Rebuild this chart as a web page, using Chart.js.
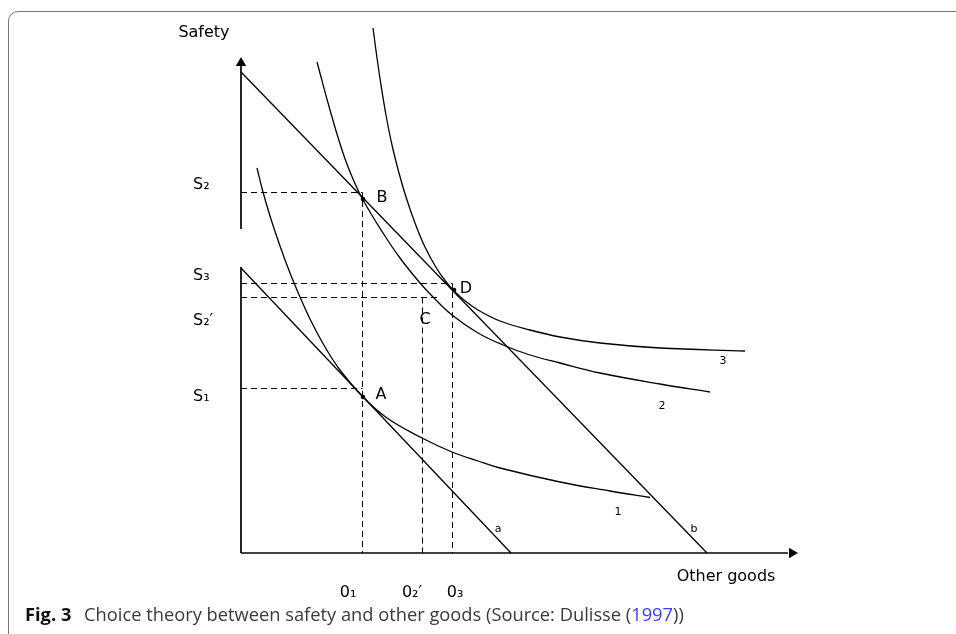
<!DOCTYPE html>
<html>
<head>
<meta charset="utf-8">
<script src="https://cdn.jsdelivr.net/npm/chart.js@4/dist/chart.umd.min.js"></script>
<style>
  html, body { margin: 0; padding: 0; background: #fff; }
  #wrap { position: relative; width: 956px; height: 634px; overflow: hidden; background: #fff; }
  #frame { position: absolute; left: 8px; top: 11px; width: 1100px; height: 800px;
           border: 1.5px solid #777; border-radius: 10px; box-sizing: border-box; }
  #chart { position: absolute; left: 0; top: 0; }
  #caption { position: absolute; left: 25px; top: 601px; font-family: "Open Sans", "Noto Sans", sans-serif;
             font-size: 18.3px; color: #3a3a3a; white-space: nowrap; }
  #caption b { color: #111; margin-right: 8px; }
  #caption a { color: #3d3df5; text-decoration: none; }
</style>
</head>
<body>
<div id="wrap">
  <div id="frame"></div>
  <canvas id="chart" width="956" height="634"></canvas>
  <div id="caption"><b>Fig. 3</b> Choice theory between safety and other goods (Source: Dulisse (<a>1997</a>))</div>
</div>
<script>
// ---- data (x = other goods, y = safety; arbitrary units, origin at the axes' corner) ----
const curve1X = [16, 22, 29, 39, 49, 59, 69, 84, 99, 122, 146, 181, 211, 237, 259, 319, 369, 409];
const curve1Y = [385, 361, 337, 307, 280, 256, 234, 206, 183, 156, 135, 115, 101, 92, 85, 71, 62, 55.5];
const curve2X = [76, 89, 102, 112, 122, 142, 159, 179, 192, 211, 237, 262, 289, 319, 359, 419, 469];
const curve2Y = [491, 443, 400, 374, 353, 320, 295, 270, 256, 238, 220, 208, 198, 190, 180, 169, 161];
const curve3X = [132, 136, 140, 145, 151, 158, 165, 174, 184, 196, 206, 213, 223, 237, 259, 289, 319, 359, 419, 504];
const curve3Y = [525, 495, 468, 438, 408, 380, 356, 330, 306, 284, 270, 262, 253, 243, 232, 223, 216, 210, 205, 202];
const budgetAX = [0, 270];
const budgetAY = [285, 0];
const budgetBX = [0, 466];
const budgetBY = [481, 0];
// safety levels and other-goods levels
const sLevels = { S1: 164.5, S2: 360.5, S3: 269.5, S2p: 255.5 };
const oLevels = { O1: 121.5, O2p: 181.5, O3: 211.5 };
const choiceNames = ['A', 'B', 'D'];
const choiceX = [122, 122, 213];
const choiceY = [156, 354, 263];
// axis extents
const axisYTop = 487, axisYGapLow = 286, axisYGapHigh = 324, axisXRight = 547;
// tick / category labels
const sLabels = ['S\u2082', 'S\u2083', 'S\u2082\u2032', 'S\u2081'];
const oLabels = ['0\u2081', '0\u2082\u2032', '0\u2083'];

const zip = (xs, ys) => xs.map((x, i) => ({ x, y: ys[i] }));

const solid = (data, extra) => Object.assign({
  data, showLine: true, borderColor: '#000', borderWidth: 1.3, pointRadius: 0,
  fill: false, tension: 0.4
}, extra || {});
const dashed = (data) => ({
  data, showLine: true, borderColor: '#000', borderWidth: 1, pointRadius: 0,
  borderDash: [6, 4], fill: false, tension: 0
});

const datasets = [
  // axes
  solid([{ x: 0, y: 0 }, { x: 0, y: axisYGapLow }], { borderWidth: 1.7, tension: 0 }),
  solid([{ x: 0, y: axisYGapHigh }, { x: 0, y: axisYTop }], { borderWidth: 1.7, tension: 0 }),
  solid([{ x: 0, y: 0 }, { x: axisXRight, y: 0 }], { borderWidth: 1.7, tension: 0 }),
  { data: [{ x: 0, y: axisYTop + 3 }], pointStyle: 'triangle', pointRadius: 6, pointRotation: 0,
    backgroundColor: '#000', borderColor: '#000', borderWidth: 0, showLine: false },
  { data: [{ x: axisXRight + 4, y: 0 }], pointStyle: 'triangle', pointRadius: 6, pointRotation: 90,
    backgroundColor: '#000', borderColor: '#000', borderWidth: 0, showLine: false },
  // dashed guides
  dashed([{ x: 0, y: sLevels.S2 }, { x: oLevels.O1, y: sLevels.S2 }, { x: oLevels.O1, y: 0 }]),
  dashed([{ x: 0, y: sLevels.S1 }, { x: oLevels.O1, y: sLevels.S1 }]),
  dashed([{ x: 0, y: sLevels.S3 }, { x: oLevels.O3, y: sLevels.S3 }, { x: oLevels.O3, y: 0 }]),
  dashed([{ x: 0, y: sLevels.S2p }, { x: 196, y: sLevels.S2p }]),
  dashed([{ x: oLevels.O2p, y: sLevels.S2p }, { x: oLevels.O2p, y: 0 }]),
  // budget lines
  solid(zip(budgetAX, budgetAY), { tension: 0 }),
  solid(zip(budgetBX, budgetBY), { tension: 0 }),
  // indifference curves
  solid(zip(curve1X, curve1Y)),
  solid(zip(curve2X, curve2Y)),
  solid(zip(curve3X, curve3Y)),
  // choice points
  { data: zip(choiceX, choiceY), pointRadius: 2.3, backgroundColor: '#000', borderWidth: 0, showLine: false }
];

const LBL = '16px "DejaVu Sans", Verdana, sans-serif';
const SML = '11px "DejaVu Sans", Verdana, sans-serif';
const annotations = [
  { t: 'Safety', x: -37, y: 520, f: LBL, a: 'center' },
  { t: sLabels[0], x: -48, y: 368, f: LBL, a: 'left' },
  { t: sLabels[1], x: -48, y: 277, f: LBL, a: 'left' },
  { t: sLabels[2], x: -48, y: 232, f: LBL, a: 'left' },
  { t: sLabels[3], x: -48, y: 156, f: LBL, a: 'left' },
  { t: 'B', x: 141, y: 355, f: LBL, a: 'center' },
  { t: 'D', x: 225, y: 264, f: LBL, a: 'center' },
  { t: 'C', x: 184, y: 233, f: LBL, a: 'center' },
  { t: 'A', x: 140, y: 158, f: LBL, a: 'center' },
  { t: 'a', x: 257, y: 24, f: SML, a: 'center' },
  { t: 'b', x: 453, y: 24, f: SML, a: 'center' },
  { t: '1', x: 377, y: 41, f: SML, a: 'center' },
  { t: '2', x: 421, y: 147, f: SML, a: 'center' },
  { t: '3', x: 482, y: 192, f: SML, a: 'center' },
  { t: oLabels[0], x: 107, y: -40, f: LBL, a: 'center' },
  { t: oLabels[1], x: 171, y: -40, f: LBL, a: 'center' },
  { t: oLabels[2], x: 214, y: -40, f: LBL, a: 'center' },
  { t: 'Other goods', x: 485, y: -24, f: LBL, a: 'center' }
];

const textPlugin = {
  id: 'diagramText',
  afterDatasetsDraw(chart) {
    const { ctx, scales: { x, y } } = chart;
    ctx.save();
    ctx.fillStyle = '#000';
    ctx.textBaseline = 'middle';
    annotations.forEach(l => {
      ctx.font = l.f;
      ctx.textAlign = l.a;
      ctx.fillText(l.t, x.getPixelForValue(l.x), y.getPixelForValue(l.y));
    });
    ctx.restore();
  }
};

new Chart(document.getElementById('chart'), {
  type: 'scatter',
  data: { datasets },
  options: {
    responsive: false,
    animation: false,
    events: [],
    layout: { padding: 0, autoPadding: false },
    plugins: { legend: { display: false }, tooltip: { enabled: false } },
    scales: {
      x: { type: 'linear', min: -241, max: 715, display: false },
      y: { type: 'linear', min: -81, max: 553, display: false }
    }
  },
  plugins: [textPlugin]
});
</script>
</body>
</html>
